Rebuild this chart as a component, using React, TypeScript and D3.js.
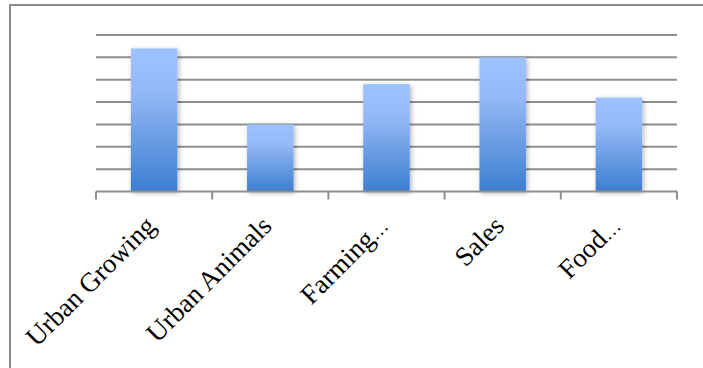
import React from "react";
import * as d3 from "d3";

const categories = ["Urban Growing", "Urban Animals", "Farming…", "Sales", "Food…"];
const values = [32, 15, 24, 30, 21];
const yTicks = [0, 5, 10, 15, 20, 25, 30, 35];

const W = 703;
const H = 368;

function Label({ text }: { text: string }) {
  if (text.endsWith("…")) {
    return (
      <>
        {text.slice(0, -1)}
        <tspan fontSize={19}>…</tspan>
      </>
    );
  }
  return <>{text}</>;
}

export default function App() {
  const x = d3.scaleBand<string>().domain(categories).range([96, 677]).paddingInner(0.6).paddingOuter(0.3);
  const y = d3.scaleLinear().domain([0, 35]).range([191.5, 35]);
  const step = x.step();
  const x0 = x.range()[0];
  const boundaries = d3.range(categories.length + 1).map((i) => x0 + i * step);
  const gridColor = "#8e8e8e";

  return (
    <svg
      width={W}
      height={H}
      style={{ position: "absolute", left: 0, top: 0, background: "#fff" }}
    >
      <defs>
        <linearGradient id="barGrad" x1="0" y1="0" x2="0" y2="1">
          <stop offset="0%" stopColor="#9cc2ff" />
          <stop offset="30%" stopColor="#94b9f6" />
          <stop offset="100%" stopColor="#3d7ecf" />
        </linearGradient>
        <filter id="shadow" x="-30%" y="-10%" width="160%" height="125%">
          <feDropShadow dx="1.5" dy="1.5" stdDeviation="2.5" floodColor="#000" floodOpacity="0.3" />
        </filter>
      </defs>
      <rect x={0} y={0} width={W} height={H} fill="#fff" />
      {/* frame */}
      <line x1={10} y1={5} x2={W} y2={5} stroke="#8a8a8a" strokeWidth={2} />
      <line x1={10} y1={4} x2={10} y2={H} stroke="#8a8a8a" strokeWidth={2} />
      {/* gridlines */}
      {yTicks.slice(1).map((t) => (
        <line key={t} x1={96} x2={677} y1={y(t)} y2={y(t)} stroke={gridColor} strokeWidth={2} />
      ))}
      {/* bars */}
      {categories.map((c, i) => (
        <rect
          key={c}
          x={x(c)}
          y={y(values[i])}
          width={x.bandwidth()}
          height={y(0) - y(values[i])}
          fill="url(#barGrad)"
          filter="url(#shadow)"
        />
      ))}
      {/* axis */}
      <line x1={96} x2={677} y1={y(0)} y2={y(0)} stroke={gridColor} strokeWidth={2} />
      {boundaries.map((b, i) => (
        <line key={i} x1={b} x2={b} y1={y(0)} y2={y(0) + 8} stroke={gridColor} strokeWidth={2} />
      ))}
      {/* labels */}
      {categories.map((c) => {
        const cx = (x(c) as number) + x.bandwidth() / 2;
        return (
          <text
            key={c}
            transform={`translate(${cx + 3},${y(0) + 36}) rotate(-45)`}
            textAnchor="end"
            fontFamily="'Liberation Serif', serif"
            fontSize={27}
            fill="#000"
          >
            <Label text={c} />
          </text>
        );
      })}
    </svg>
  );
}
